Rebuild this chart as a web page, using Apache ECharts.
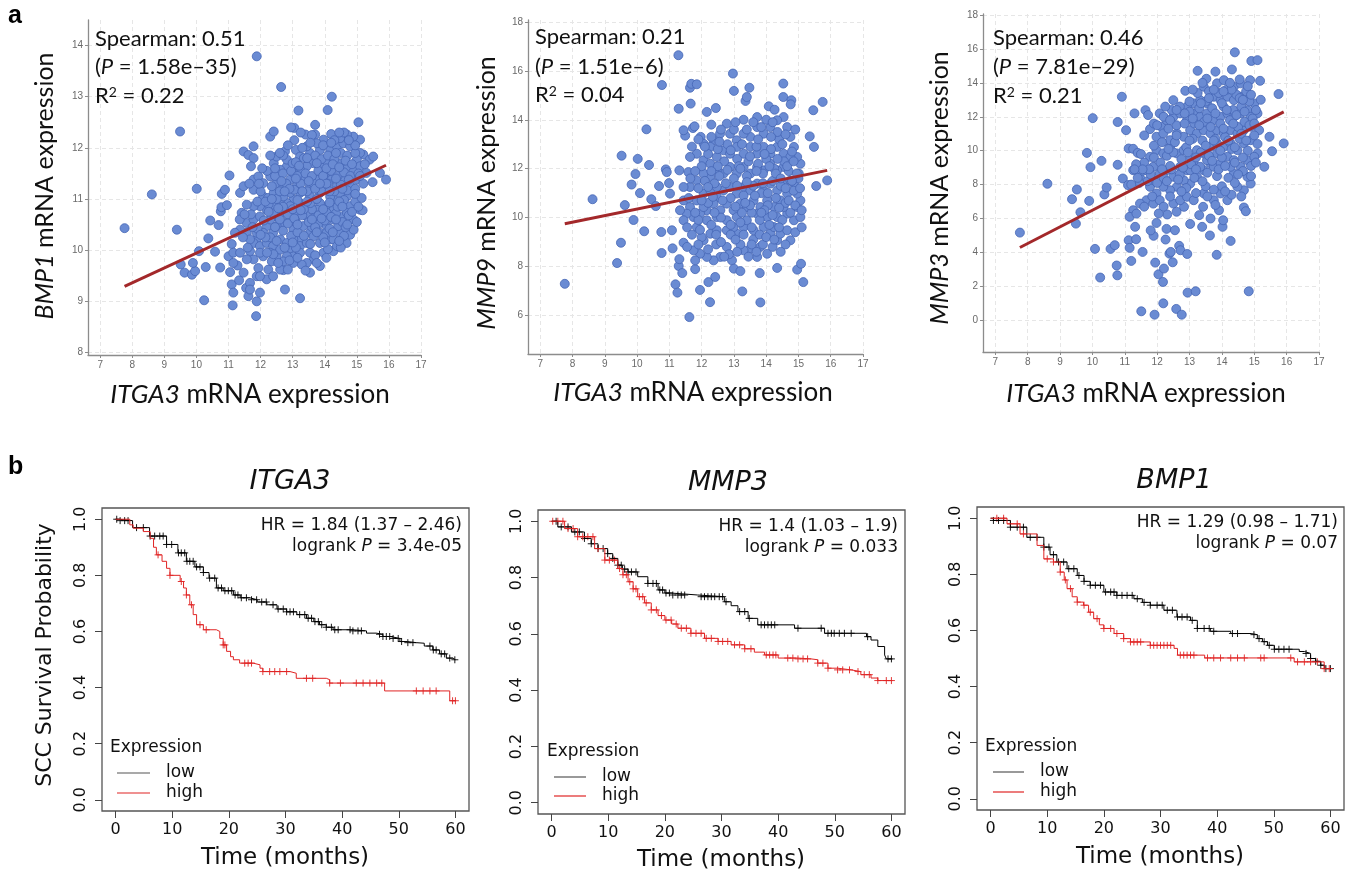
<!DOCTYPE html>
<html><head><meta charset="utf-8">
<script src="https://cdn.jsdelivr.net/npm/echarts@6/dist/echarts.min.js"></script>
<style>html,body{margin:0;padding:0;background:#fff}#c{width:1350px;height:874px}</style>
</head><body><div id="c"></div><script>
// ---------- tick values ----------
const xTicks = [7,8,9,10,11,12,13,14,15,16,17];
const bmp1Ticks = [8,9,10,11,12,13,14];
const mmp9Ticks = [6,8,10,12,14,16,18];
const mmp3Ticks = [0,2,4,6,8,10,12,14,16,18];
const timeTicks = [0,10,20,30,40,50,60];
const probTicks = [0,0.2,0.4,0.6,0.8,1.0];

// ---------- scatter data (ITGA3 x, gene y) ----------
const bmp1Points = [[7.76,10.43],[8.61,11.09],[9.49,12.32],[9.39,10.40],[9.51,9.72],[9.63,9.56],[9.86,9.52],[9.96,9.59],[9.89,9.75],[10.08,9.98],[10.01,11.20],[10.24,9.02],[10.29,9.67],[10.37,10.23],[10.43,10.58],[10.58,9.97],[10.69,10.49],[10.74,9.66],[10.76,10.76],[10.78,10.84],[10.79,11.10],[10.89,11.18],[11.03,11.46],[10.95,10.88],[11.00,9.88],[11.05,9.57],[11.10,9.33],[11.15,9.17],[11.13,8.92],[11.10,10.12],[11.15,9.95],[11.28,9.70],[11.33,9.41],[11.36,11.12],[11.41,10.73],[11.47,11.93],[11.62,11.86],[11.78,11.80],[11.78,12.03],[11.86,8.71],[11.88,9.00],[11.88,13.79],[11.55,9.26],[11.62,9.10],[11.70,11.64],[11.78,11.38],[11.93,11.44],[11.98,9.17],[11.88,9.49],[12.08,11.05],[12.23,11.02],[12.30,12.22],[12.41,12.32],[12.64,13.19],[12.76,11.93],[12.76,9.23],[12.71,9.61],[13.05,12.39],[13.10,11.96],[13.18,12.73],[13.23,9.06],[13.40,12.26],[13.70,12.45],[13.70,12.26],[13.85,9.69],[14.09,12.74],[14.22,13.00],[14.20,12.27],[15.05,12.50],[15.10,12.16],[15.49,11.33],[15.72,11.51],[15.91,11.38],[15.20,11.87],[15.10,11.90],[15.10,10.79],[15.18,10.78],[14.79,10.30],[14.68,10.14],[14.27,9.98],[14.17,10.21],[14.48,10.34],[13.85,10.34],[13.65,9.82],[13.54,9.56],[13.44,9.75],[13.28,9.72],[13.02,9.88],[12.92,10.04],[12.82,9.88],[12.71,9.78],[12.50,9.88],[12.35,9.78],[12.24,9.62],[12.19,9.43],[12.08,9.88],[11.93,9.65],[11.78,9.82],[11.67,9.98],[11.57,9.82],[11.47,9.56],[11.57,10.34],[11.36,10.40],[11.20,10.34],[11.57,10.53],[11.78,10.60],[11.98,10.66],[12.19,10.47],[12.39,10.34],[12.50,10.66],[12.71,10.73],[12.92,10.60],[13.02,10.40],[13.23,10.21],[13.33,10.47],[13.54,10.34],[13.70,10.66],[13.85,10.53],[14.06,10.47],[14.27,10.60],[14.42,10.47],[14.58,10.66],[14.79,10.86],[14.48,10.86],[14.27,10.99],[14.06,10.86],[13.85,10.92],[13.65,10.99],[13.44,10.86],[13.23,10.92],[13.02,10.99],[12.82,10.92],[12.61,10.99],[12.41,10.86],[12.19,10.79],[11.98,10.86],[11.78,10.86],[11.57,10.89],[11.47,11.25],[11.78,11.18],[12.08,11.31],[12.30,11.44],[12.50,11.31],[12.71,11.25],[12.92,11.38],[13.12,11.25],[13.33,11.38],[13.54,11.25],[13.75,11.38],[13.96,11.25],[14.17,11.38],[14.38,11.25],[14.58,11.38],[14.79,11.25],[15.00,11.38],[14.89,11.57],[14.69,11.64],[14.48,11.70],[14.27,11.64],[14.06,11.70],[13.85,11.64],[13.65,11.70],[13.44,11.64],[13.23,11.57],[13.02,11.51],[12.82,11.64],[12.61,11.57],[12.41,11.70],[12.50,11.83],[12.82,11.77],[13.23,11.83],[13.54,11.90],[13.85,11.96],[14.17,11.96],[14.38,12.03],[14.58,12.09],[14.79,12.03],[14.89,12.22],[14.69,12.26],[14.48,12.19],[13.96,12.16],[13.75,12.09],[13.44,12.03],[15.00,11.77],[15.10,11.64],[15.30,11.51],[15.40,11.77],[15.51,11.83],[14.89,11.12],[14.69,11.05],[14.48,11.12],[14.17,11.05],[13.85,11.12],[13.54,11.05],[13.23,11.12],[12.92,11.12],[12.71,11.05],[12.41,11.12],[14.27,10.79],[14.69,10.73],[14.89,10.60],[14.06,10.73],[13.75,10.79],[13.44,10.66],[13.12,10.73],[12.92,10.86],[12.71,10.53],[12.50,10.47],[12.30,10.60],[12.08,10.34],[11.88,10.21],[11.78,10.14],[11.98,10.08],[12.19,10.14],[12.39,10.08],[12.61,10.21],[12.82,10.14],[13.02,10.21],[13.23,10.08],[13.44,10.14],[13.65,10.27],[13.85,10.14],[14.06,10.34],[14.27,10.21],[14.38,10.08],[13.96,9.95],[13.54,9.95],[13.23,9.95],[12.61,10.01],[12.30,9.95],[11.98,9.95],[11.88,10.34],[11.67,10.21],[11.36,9.95],[11.15,9.75],[11.67,9.36],[11.98,9.49],[12.39,9.49],[12.61,9.62],[13.02,9.75],[11.67,9.23]];
const bmp1Core = [[12.4,9.92],[12.9,9.80],[13.1,10.05],[13.7,9.90],[14.1,10.02],[14.5,10.05],[11.6,10.05],[11.45,10.25],[11.9,10.42],[12.3,10.25],[12.7,10.38],[12.95,10.28],[13.15,10.35],[13.6,10.45],[13.95,10.25],[14.15,10.42],[14.6,10.28],[14.9,10.4],[12.5,10.18],[11.35,10.6],[11.7,10.7],[12.1,10.58],[12.4,10.72],[12.6,10.6],[12.85,10.7],[13.1,10.55],[13.3,10.68],[13.5,10.55],[13.8,10.68],[14.0,10.58],[14.35,10.72],[14.55,10.55],[14.75,10.68],[15.0,10.55],[13.6,10.8],[11.9,10.95],[12.25,10.9],[12.5,11.0],[12.7,10.85],[13.0,10.8],[13.15,10.98],[13.35,10.8],[13.55,10.92],[13.75,11.0],[13.95,10.8],[14.15,10.93],[14.4,10.85],[14.6,10.98],[14.95,10.95],[15.15,11.02],[11.65,11.3],[12.0,11.15],[12.35,11.25],[12.6,11.15],[12.8,11.3],[13.05,11.18],[13.25,11.3],[13.45,11.15],[13.65,11.3],[13.9,11.15],[14.1,11.3],[14.3,11.15],[14.5,11.28],[14.7,11.17],[14.95,11.2],[15.2,11.3],[12.2,11.55],[12.45,11.45],[12.7,11.5],[12.95,11.55],[13.15,11.45],[13.4,11.5],[13.6,11.45],[13.8,11.55],[14.0,11.48],[14.2,11.55],[14.4,11.45],[14.6,11.52],[14.8,11.45],[15.05,11.5],[13.0,11.7],[12.7,11.85],[13.1,11.72],[13.35,11.8],[13.7,11.85],[13.9,11.78],[14.1,11.85],[14.3,11.78],[14.5,11.9],[14.7,11.85],[14.95,11.9],[13.3,12.0],[14.6,12.3],[14.3,12.15],[13.6,12.25],[14.95,12.05]];
const bmp1Core2 = [[12.15,10.95],[12.55,10.82],[12.85,10.52],[13.05,10.62],[13.25,10.78],[13.45,10.95],[13.7,10.45],[13.9,10.62],[14.2,10.65],[14.45,10.95],[14.65,10.45],[14.85,10.75],[15.05,10.85],[12.45,11.6],[12.65,11.35],[12.9,11.2],[13.1,11.4],[13.3,11.15],[13.5,11.35],[13.7,11.2],[13.95,11.45],[14.15,11.15],[14.35,11.4],[14.55,11.2],[14.75,11.38],[15.1,11.45],[13.2,11.65],[13.45,11.8],[13.75,11.7],[14.05,11.6],[14.25,11.68],[14.45,11.62],[14.65,11.75],[14.85,11.68],[15.25,11.68],[13.95,12.05],[14.2,12.1],[14.45,12.3],[14.75,12.15],[13.05,12.15],[12.85,12.05],[12.3,11.85],[12.05,11.6],[12.15,10.25],[12.45,10.45],[12.75,10.05],[13.0,10.15],[13.35,10.28],[13.55,10.12],[13.75,10.35],[14.0,10.15],[14.25,10.35],[14.45,10.18],[14.7,10.5],[12.55,9.75],[12.85,9.62],[13.15,9.85],[13.4,9.6],[13.75,9.75],[14.05,9.85],[11.75,10.45],[12.0,10.3],[12.25,10.75],[11.95,11.3],[11.5,10.7],[12.2,9.95],[12.6,11.9],[13.55,12.1],[13.25,12.3],[12.95,12.4],[14.35,11.9],[14.05,11.3],[13.6,10.6],[13.15,10.5],[14.35,10.6],[14.55,10.85],[14.95,11.1],[12.35,11.0],[12.75,11.15],[13.85,11.3]];

const mmp9Points = [[7.76,7.29],[8.62,10.75],[9.38,8.14],[9.50,8.97],[9.52,12.53],[9.62,10.51],[9.83,11.35],[9.89,9.90],[9.95,11.78],[10.02,12.40],[10.09,11.00],[10.22,9.44],[10.29,13.61],[10.37,12.15],[10.44,10.75],[10.58,10.47],[10.68,11.29],[10.75,9.41],[10.76,8.55],[10.77,15.42],[10.89,11.97],[10.92,11.86],[10.99,11.41],[11.02,10.98],[11.08,9.48],[11.10,8.74],[11.19,7.27],[11.25,6.93],[11.28,16.64],[11.29,14.45],[11.31,11.93],[11.29,8.02],[11.31,8.30],[11.40,7.73],[11.44,8.97],[11.49,13.35],[11.59,11.86],[11.62,5.93],[11.64,15.31],[11.66,14.66],[11.68,15.47],[11.85,15.45],[11.73,13.66],[11.78,13.73],[11.80,7.89],[11.95,7.04],[11.97,13.30],[12.16,14.32],[12.21,7.36],[12.26,6.54],[12.44,14.48],[12.42,7.57],[12.97,15.89],[13.00,15.18],[12.94,8.25],[13.00,7.91],[13.20,7.81],[13.26,6.98],[13.36,14.77],[13.40,14.93],[13.48,15.31],[13.80,7.73],[13.82,6.53],[13.72,14.11],[14.08,14.55],[14.26,14.41],[14.53,15.48],[14.53,14.93],[14.78,14.80],[14.76,14.63],[15.46,14.39],[15.75,14.73],[15.89,11.52],[15.55,11.29],[15.48,12.89],[15.35,13.32],[14.96,7.87],[15.08,8.11],[15.15,7.36],[14.75,9.07],[14.34,7.94],[13.72,8.39],[13.51,8.73],[13.30,8.66],[13.09,9.34],[12.78,8.80],[12.58,8.39],[12.37,8.25],[12.16,8.39],[11.95,8.52],[11.80,8.25],[11.75,8.66],[12.06,9.07],[12.27,9.34],[12.47,9.48],[12.78,9.48],[12.99,9.61],[13.30,9.61],[13.61,9.48],[13.92,9.61],[14.13,9.34],[14.34,9.07],[14.44,9.34],[14.65,9.48],[13.82,8.80],[14.03,8.52],[14.24,9.61],[14.86,9.89],[15.06,10.02],[14.96,10.43],[15.06,10.70],[14.96,10.98],[14.86,11.39],[15.01,11.80],[15.06,12.20],[14.96,12.48],[14.86,12.89],[14.75,13.30],[14.65,13.70],[14.54,14.11],[14.34,13.98],[14.13,13.70],[13.92,13.43],[13.72,13.70],[13.51,13.30],[13.30,13.43],[13.09,13.16],[12.88,13.43],[12.78,13.84],[12.57,13.43],[12.37,13.16],[12.27,12.89],[12.06,13.02],[11.85,12.61],[12.06,12.34],[12.27,12.20],[12.47,12.48],[12.68,12.75],[12.88,12.61],[13.09,12.89],[13.30,12.61],[13.51,12.89],[13.72,12.61],[13.92,12.89],[14.13,12.61],[14.34,12.89],[14.54,12.61],[14.75,12.48],[14.54,12.07],[14.34,11.93],[14.13,12.20],[13.92,11.93],[13.72,12.07],[13.51,11.80],[13.30,12.07],[13.09,11.80],[12.88,12.07],[12.68,11.80],[12.47,11.93],[12.27,11.66],[12.06,11.80],[11.85,11.52],[11.64,11.25],[11.44,11.25],[11.44,10.70],[11.64,10.43],[11.85,10.70],[12.06,10.98],[12.27,11.11],[12.47,10.84],[12.68,11.11],[12.88,11.25],[13.09,10.98],[13.30,11.25],[13.51,11.11],[13.72,11.39],[13.92,11.11],[14.13,11.39],[14.34,11.11],[14.54,11.39],[14.75,11.52],[14.65,10.98],[14.44,10.70],[14.24,10.43],[14.03,10.70],[13.82,10.43],[13.61,10.70],[13.40,10.43],[13.20,10.57],[12.99,10.30],[12.78,10.57],[12.58,10.30],[12.37,10.57],[12.16,10.30],[11.95,10.16],[11.75,10.02],[11.54,10.16],[11.33,10.30],[11.44,9.89],[11.85,9.61],[12.16,9.89],[12.47,10.02],[12.78,9.89],[13.09,10.02],[13.40,9.89],[13.72,10.16],[14.03,10.02],[14.34,10.02],[14.65,10.16],[14.54,10.43],[11.44,13.57],[11.64,12.48],[12.47,11.25],[12.06,10.43]];
const mmp9Core = [[11.6,10.8],[11.9,11.2],[12.2,10.6],[12.4,11.4],[12.6,10.0],[12.7,12.3],[12.9,10.8],[13.0,11.6],[13.1,12.4],[13.2,9.8],[13.3,10.9],[13.4,11.7],[13.45,12.3],[13.55,10.2],[13.6,11.3],[13.7,12.9],[13.8,9.9],[13.85,11.0],[13.9,11.8],[14.0,12.4],[14.05,10.5],[14.1,9.7],[14.2,11.5],[14.25,12.0],[14.3,10.8],[14.4,13.2],[14.45,11.3],[14.5,9.9],[14.55,12.3],[14.6,10.6],[14.7,11.9],[14.75,10.2],[14.8,12.7],[14.85,11.1],[14.9,13.6],[15.0,11.6],[12.8,13.0],[12.5,12.8],[12.2,12.6],[12.0,12.1],[11.8,11.9],[11.7,12.9],[12.9,9.3],[13.2,8.9],[13.6,9.1],[13.9,8.9],[14.2,8.8],[12.3,9.7],[12.0,9.2],[11.9,9.9],[13.0,13.6],[13.3,14.0],[13.6,13.9],[14.0,14.0],[14.35,13.5],[12.6,13.6],[12.3,13.8],[11.9,13.2],[13.15,12.1],[13.75,12.2],[14.15,12.8],[13.5,10.5],[13.25,10.2],[13.95,10.3],[12.75,11.4],[12.35,10.85],[11.55,9.6],[11.7,9.3],[12.45,8.9],[12.85,8.5],[13.45,8.4],[14.6,8.9],[14.9,9.4],[15.1,9.6],[12.1,11.5],[12.55,11.7]];
const mmp9Core2 = [[12.2,11.25],[12.4,10.2],[12.5,12.1],[12.65,10.7],[12.8,11.95],[12.9,12.75],[13.05,10.45],[13.1,11.3],[13.2,12.0],[13.25,13.0],[13.35,10.6],[13.4,11.45],[13.5,12.5],[13.55,9.6],[13.65,10.9],[13.7,11.9],[13.75,13.2],[13.85,10.2],[13.9,11.4],[13.95,12.6],[14.05,11.0],[14.1,12.1],[14.15,13.3],[14.2,10.1],[14.3,11.8],[14.35,12.4],[14.4,10.4],[14.45,11.6],[14.5,13.0],[14.6,11.2],[14.65,12.1],[14.7,10.7],[14.8,11.5],[14.85,12.3],[14.9,10.5],[14.95,11.8],[15.05,11.2],[15.1,10.3],[12.1,12.9],[12.3,11.9],[12.45,9.3],[12.6,9.0],[12.9,9.7],[13.05,9.1],[13.3,9.3],[13.55,8.9],[13.8,9.3],[14.0,9.2],[14.25,9.1],[14.4,9.6],[12.0,10.7],[11.8,10.2],[11.65,11.6],[12.3,13.3],[12.55,13.1],[13.05,13.9],[13.4,13.6],[13.85,13.7],[14.2,13.9],[14.6,13.4],[11.95,9.5],[12.2,8.7],[12.7,8.4],[13.1,8.6],[13.7,8.6],[14.45,8.6],[11.55,8.8],[11.9,8.9]];

const mmp3Points = [[7.76,5.17],[8.61,8.05],[9.37,7.14],[9.49,5.70],[9.52,7.71],[9.63,6.37],[9.83,9.87],[9.90,7.04],[9.94,9.03],[10.01,11.92],[10.08,4.21],[10.24,2.52],[10.28,9.40],[10.37,7.42],[10.44,7.83],[10.56,4.21],[10.69,4.43],[10.75,3.23],[10.77,2.65],[10.78,9.17],[10.78,11.69],[10.91,13.18],[10.94,8.36],[11.04,11.21],[11.10,7.97],[11.12,10.13],[11.12,4.72],[11.15,4.27],[11.20,3.50],[11.26,10.11],[11.30,12.20],[11.32,5.51],[11.35,4.78],[11.40,9.87],[11.51,0.53],[11.55,4.03],[11.64,12.39],[11.72,12.10],[11.78,11.27],[11.89,4.98],[11.92,0.33],[11.94,3.40],[11.98,5.74],[12.04,2.71],[12.08,12.20],[12.13,11.41],[12.18,2.26],[12.19,1.00],[12.21,3.05],[12.26,4.76],[12.29,5.39],[12.31,6.24],[12.38,3.93],[12.42,4.03],[12.48,3.42],[12.55,5.31],[12.59,0.67],[12.68,4.39],[12.72,4.13],[12.76,0.33],[12.83,6.69],[12.87,13.53],[12.93,3.91],[12.94,1.63],[13.02,5.68],[13.19,1.71],[13.25,14.71],[13.39,5.51],[13.42,6.69],[13.44,7.48],[13.52,14.24],[13.63,5.00],[13.65,6.00],[13.80,14.66],[13.84,3.86],[13.91,6.49],[14.02,5.51],[14.04,5.90],[14.27,4.68],[14.31,14.79],[14.40,15.80],[14.68,6.65],[14.74,6.43],[14.83,1.71],[14.91,15.29],[15.10,15.34],[15.18,14.12],[14.87,14.16],[15.75,13.34],[15.91,10.43],[15.55,9.97],[15.47,10.82],[15.31,9.05],[15.10,9.84],[15.15,11.21],[15.10,12.20],[15.00,12.79],[14.89,8.06],[14.79,8.46],[14.68,7.67],[14.48,7.87],[14.37,8.66],[14.27,9.05],[14.17,9.64],[14.06,10.23],[13.85,9.84],[13.65,9.25],[13.44,8.85],[13.23,8.46],[13.02,8.06],[12.82,8.26],[12.61,7.87],[12.40,7.67],[12.19,7.87],[11.98,7.48],[11.78,7.87],[11.67,7.08],[11.47,6.88],[11.26,6.49],[11.15,6.10],[11.36,6.29],[11.60,6.70],[11.88,6.88],[12.08,7.08],[12.50,6.88],[12.71,7.08],[12.92,7.28],[13.13,7.08],[13.75,7.08],[13.96,7.48],[14.17,7.08],[11.26,8.85],[11.47,8.66],[11.67,8.85],[11.88,9.05],[12.08,8.66],[12.29,8.85],[12.50,8.46],[12.71,9.05],[12.92,8.85],[13.13,9.25],[13.33,9.05],[13.54,9.44],[13.75,9.05],[13.96,9.25],[14.37,9.44],[14.58,9.05],[14.79,9.44],[15.00,9.64],[11.78,9.64],[11.98,10.03],[12.19,9.84],[12.40,10.23],[12.61,9.84],[12.82,10.03],[13.02,9.64],[13.23,10.03],[13.44,9.84],[13.65,10.23],[13.85,10.43],[14.27,10.43],[14.48,10.03],[14.68,10.43],[14.89,10.62],[11.98,10.82],[12.19,11.02],[12.40,10.62],[12.61,11.02],[12.82,10.82],[13.02,11.21],[13.23,11.02],[13.44,11.21],[13.65,11.02],[13.85,11.21],[14.06,11.02],[14.27,11.21],[14.48,11.02],[14.68,11.21],[14.89,11.41],[12.29,11.80],[12.50,12.00],[12.71,12.20],[12.92,11.80],[13.13,12.20],[13.33,12.00],[13.54,12.20],[13.75,11.80],[13.96,12.00],[14.17,12.20],[14.37,12.00],[14.58,12.20],[14.79,12.39],[14.89,12.00],[13.13,12.79],[13.33,12.98],[13.54,12.79],[13.75,13.18],[13.96,12.98],[14.17,13.18],[14.37,12.98],[14.58,13.18],[14.79,12.98],[13.44,13.77],[13.85,13.97],[14.06,14.16],[14.37,13.77],[14.58,13.97],[12.92,12.59],[12.50,12.98],[11.88,8.26],[13.02,8.85]];
const mmp3Core = [[11.5,8.3],[11.6,9.3],[11.7,8.2],[11.8,8.6],[11.9,9.6],[12.0,8.1],[12.1,9.3],[12.2,8.4],[12.3,9.7],[12.35,11.3],[12.45,8.9],[12.55,10.5],[12.6,11.5],[12.7,8.6],[12.75,9.5],[12.85,11.6],[12.9,10.2],[13.0,12.3],[13.05,9.2],[13.1,10.7],[13.15,11.6],[13.2,8.9],[13.3,12.5],[13.35,9.9],[13.4,10.6],[13.45,11.7],[13.5,12.9],[13.55,8.7],[13.6,9.7],[13.65,11.4],[13.7,12.5],[13.8,10.7],[13.85,8.5],[13.9,13.4],[13.95,11.6],[14.0,9.6],[14.05,12.6],[14.1,10.8],[14.15,13.6],[14.2,8.4],[14.25,11.8],[14.3,10.1],[14.35,12.4],[14.4,9.3],[14.45,13.3],[14.5,11.4],[14.55,10.7],[14.6,12.6],[14.65,8.8],[14.7,11.7],[14.75,13.5],[14.8,10.0],[14.85,12.9],[14.9,9.1],[14.95,11.9],[15.0,10.9],[15.05,12.4],[15.1,10.4],[15.2,13.0],[13.25,13.4],[13.6,13.5],[13.0,12.9],[12.7,12.6],[12.45,12.4],[12.2,12.0],[11.9,11.6],[11.6,10.9],[11.35,9.2],[11.45,8.1],[11.2,8.0],[12.05,6.3],[12.6,6.4],[13.3,6.2],[13.8,6.8],[14.3,7.4],[14.6,7.3],[11.8,5.3],[12.9,7.8],[13.5,7.9],[14.0,7.9]];
const mmp3Core2 = [[12.3,8.2],[12.4,9.1],[12.5,9.9],[12.6,10.9],[12.65,8.3],[12.8,9.0],[12.95,9.9],[13.0,10.6],[13.1,11.9],[13.15,8.4],[13.2,9.6],[13.3,11.5],[13.35,12.8],[13.4,8.2],[13.5,10.3],[13.55,11.9],[13.6,13.1],[13.7,9.4],[13.75,10.6],[13.8,12.2],[13.9,8.9],[13.95,10.0],[14.0,12.8],[14.05,11.3],[14.1,9.1],[14.15,12.4],[14.2,10.6],[14.3,13.6],[14.35,11.6],[14.4,10.2],[14.45,12.1],[14.5,8.6],[14.55,13.1],[14.6,11.0],[14.65,9.6],[14.7,12.3],[14.75,10.6],[14.8,13.8],[14.85,11.5],[14.9,8.5],[15.0,11.6],[15.05,9.3],[11.9,10.3],[12.0,11.5],[12.15,10.5],[12.25,12.6],[12.4,11.8],[11.75,8.9],[11.55,8.9],[11.4,8.4],[11.3,8.9],[11.5,9.8],[11.85,7.3],[12.2,6.7],[12.4,7.3],[12.75,7.6],[13.2,7.5],[13.55,7.3],[13.75,7.7],[14.1,7.6],[14.4,8.1],[13.1,13.6],[13.4,14.0],[13.75,13.6],[14.05,13.5],[14.25,14.0],[14.55,14.2],[14.65,13.0],[14.9,13.3],[12.85,12.2],[12.6,12.4],[12.35,10.1],[12.15,8.9]];

// regression line end points
const fitBMP1 = [[7.76,9.29],[15.91,11.66]];
const fitMMP9 = [[7.76,9.75],[15.89,11.93]];
const fitMMP3 = [[7.76,4.29],[15.91,12.29]];

// ---------- Kaplan-Meier curves [months, survival] ----------
const itga3Low = [[0,1],[0.5,0.995],[3,0.97],[6,0.94],[9,0.91],[11,0.88],[12.5,0.85],[14,0.83],[15.5,0.81],[16.5,0.79],[17.8,0.755],[19,0.745],[20.8,0.73],[22,0.72],[23.7,0.713],[25,0.705],[26.7,0.695],[28.5,0.68],[30.2,0.67],[32,0.66],[33.7,0.647],[35,0.635],[36,0.624],[37.2,0.615],[38.4,0.606],[41.9,0.602],[44.3,0.594],[46,0.59],[47.2,0.582],[48.5,0.575],[50.2,0.564],[51.5,0.56],[53.1,0.558],[54.5,0.548],[56,0.534],[57.2,0.52],[58.4,0.505],[59.5,0.499],[60,0.499]];
const itga3High = [[0,1],[1.6,1],[2.5,0.98],[3.1,0.968],[4.9,0.956],[6.1,0.932],[6.7,0.9],[7.2,0.873],[8.2,0.85],[9,0.825],[9.6,0.8],[11.4,0.778],[12,0.755],[12.5,0.73],[13.1,0.695],[13.7,0.66],[14.3,0.624],[15.5,0.606],[17.8,0.6],[18.4,0.575],[19,0.552],[19.6,0.529],[20.3,0.51],[20.8,0.499],[21.9,0.487],[24.3,0.481],[25.5,0.469],[26,0.457],[30.8,0.451],[31.9,0.433],[37.2,0.428],[37.8,0.416],[47.5,0.388],[59,0.353],[60,0.353]];
const mmp3Low = [[0,1],[1.1,0.98],[3.5,0.962],[5.8,0.939],[7,0.92],[8.2,0.903],[9.9,0.885],[10.8,0.868],[11.7,0.844],[12.5,0.83],[13.5,0.82],[15.2,0.803],[17,0.779],[18.8,0.756],[20,0.745],[21.1,0.738],[25.8,0.732],[30.5,0.714],[31.7,0.70],[32.9,0.679],[34.7,0.655],[36.4,0.632],[42.9,0.62],[48.2,0.602],[55.6,0.59],[56.4,0.578],[57.6,0.555],[58.8,0.525],[59.1,0.511],[60.2,0.511]];
const mmp3High = [[0,1],[2.3,0.974],[4.6,0.945],[7.6,0.903],[9.4,0.862],[11.7,0.832],[12.6,0.81],[13.5,0.785],[14.4,0.76],[15.2,0.732],[16.4,0.71],[17.6,0.685],[18.8,0.665],[20,0.649],[21.2,0.635],[22.3,0.62],[24.6,0.602],[27,0.584],[29.4,0.573],[31.7,0.561],[34.1,0.547],[35.8,0.535],[37.6,0.525],[40,0.514],[43.5,0.511],[45.8,0.508],[47,0.496],[48.8,0.478],[50.5,0.472],[52.9,0.466],[54.6,0.455],[56.4,0.443],[57.6,0.434],[60.2,0.434]];
const bmp1Low = [[0,1],[0.5,0.992],[3.5,0.968],[6.4,0.932],[9.4,0.897],[10.5,0.87],[11.7,0.844],[13.5,0.82],[15.3,0.796],[16.5,0.775],[17.6,0.761],[20,0.737],[22.3,0.725],[25.3,0.713],[26.8,0.7],[28.2,0.69],[30.6,0.672],[32.9,0.648],[35.3,0.636],[36.5,0.607],[38.8,0.597],[42.4,0.589],[46,0.585],[47.1,0.571],[48,0.56],[48.9,0.547],[50.1,0.533],[54.5,0.525],[55.4,0.518],[56.5,0.5],[57.4,0.49],[58.3,0.476],[59,0.464],[60.1,0.464]];
const bmp1High = [[0,1],[2,1],[2.9,0.98],[5.2,0.944],[8.2,0.903],[9.4,0.855],[11.1,0.844],[12.3,0.808],[13,0.78],[13.5,0.749],[14.4,0.72],[15.3,0.701],[16.4,0.69],[17.3,0.665],[18.2,0.642],[19.2,0.62],[20,0.607],[21.8,0.589],[23.5,0.571],[24.7,0.559],[28.2,0.547],[32.4,0.536],[33,0.512],[37.8,0.502],[53.6,0.488],[58.9,0.464],[60.3,0.464]];

// censoring times (months)
const itga3LowCens = [0.2,0.8,1.6,2.2,3.7,4.9,6.1,6.9,7.8,8.4,9.0,9.9,11.1,11.6,12.2,12.6,13.1,13.7,14.3,14.9,15.5,16.6,17.5,18.1,18.7,19.3,19.9,20.5,21.1,21.6,22.2,23.1,24.0,24.9,25.8,26.6,27.8,28.7,29.6,30.2,30.8,31.4,32.5,33.4,34.0,34.6,35.2,35.8,36.4,37.2,38.1,38.7,39.3,41.4,41.9,42.8,43.4,46.6,47.2,47.8,48.4,49.0,49.9,50.5,51.6,52.5,55.5,56.1,56.6,57.5,58.1,59.0,59.9];
const itga3HighCens = [7.5,9.6,11.6,12.5,13.4,14.9,16.0,19.0,19.3,22.8,23.4,24.0,26.0,27.2,28.1,29.0,30.2,33.7,34.8,37.8,39.7,42.5,43.7,44.9,46.1,47.0,53.1,54.3,55.5,56.6,59.5,60.0];
const mmp3LowCens = [0.8,1.7,2.9,4.1,4.9,5.8,7.0,8.2,9.1,9.9,10.8,11.7,12.3,12.9,13.5,14.1,14.9,17.0,17.9,18.5,19.1,19.6,20.2,20.8,21.4,22.3,22.9,23.5,26.4,27.0,27.6,28.2,28.8,29.6,30.2,30.8,33.2,34.1,34.9,37.0,37.6,38.2,38.8,39.4,43.5,47.6,48.8,49.4,49.9,50.8,51.7,52.9,55.8,59.4,60.0];
const mmp3HighCens = [0.2,1.1,2.0,2.9,3.8,4.6,5.5,6.4,7.3,8.2,9.4,10.2,11.1,12.0,12.6,13.2,13.8,14.4,14.9,15.5,16.1,16.7,17.6,18.5,19.4,20.2,21.1,22.0,22.9,23.8,24.6,25.5,26.4,27.3,28.2,29.4,30.2,31.1,32.3,33.2,34.1,35.2,37.9,38.5,39.1,39.6,41.7,42.6,43.5,44.4,45.2,47.0,47.9,48.8,50.5,51.4,52.6,54.1,55.2,56.1,57.6,59.1,60.0];
const bmp1LowCens = [0.5,1.4,2.3,3.5,4.7,5.8,7.0,8.2,9.4,10.3,11.1,12.0,12.9,13.8,14.7,15.6,16.5,17.6,18.5,19.4,20.3,21.2,21.8,22.3,23.2,24.1,25.0,25.9,27.1,28.2,29.4,30.3,31.2,32.1,33.0,33.8,34.7,35.6,36.5,37.7,38.6,39.4,42.7,43.6,46.5,47.4,48.3,49.2,50.1,50.9,51.8,52.7,55.7,56.5,57.4,58.3,59.2,60.0];
const bmp1HighCens = [1.1,2.3,3.5,4.7,5.8,10.0,11.1,12.3,13.2,14.1,15.3,16.5,17.6,18.8,20.0,21.2,22.3,23.5,24.7,25.3,25.9,26.5,28.2,28.8,29.4,30.0,30.6,31.2,31.8,33.5,34.1,34.7,35.3,35.9,38.3,39.4,40.6,42.4,43.6,44.8,47.7,48.3,53.0,54.2,55.4,56.5,57.7,58.9,59.8];

// ---------- helpers ----------
function stepAt(curve, t) {
  let v = curve[0][1];
  for (const p of curve) { if (p[0] <= t) v = p[1]; else break; }
  return v;
}
const LATO = 'Lato';
const DV = 'DejaVu Sans';
function rich(size, family, fill) {
  return {
    n: {fontSize: size, fontFamily: family, fill: fill},
    i: {fontSize: size, fontFamily: family, fontStyle: 'italic', fill: fill},
    s: {fontSize: Math.round(size * 0.62), fontFamily: family, fill: fill, verticalAlign: 'top'}
  };
}
function txt(x, y, text, size, family, o) {
  o = o || {};
  return {
    type: 'text', x: x, y: y, rotation: o.rot || 0, silent: true, z: 100,
    style: {
      text: text, fontSize: size, fontFamily: family, fill: o.fill || '#111',
      align: o.align || 'left', verticalAlign: 'middle',
      fontStyle: o.italic ? 'italic' : 'normal', fontWeight: o.bold ? 'bold' : 'normal',
      rich: rich(size, family, o.fill || '#111')
    }
  };
}
function seg(x1, y1, x2, y2, color) {
  return {type: 'line', silent: true, z: 100, shape: {x1: x1, y1: y1, x2: x2, y2: y2}, style: {stroke: color, lineWidth: 1.2}};
}

const AX = '#8c8c8c';
function sX(gi) {
  return {gridIndex: gi, type: 'value', min: 6.62, max: 17,
    axisLine: {show: true, onZero: false, lineStyle: {color: AX, width: 1.3}},
    axisTick: {show: true, length: 3, customValues: xTicks, lineStyle: {color: AX}},
    axisLabel: {customValues: xTicks, fontSize: 10, color: '#6a6a6a', margin: 5, fontFamily: 'Liberation Sans'},
    splitLine: {show: true, lineStyle: {type: [4, 3], color: '#e6e6e6', width: 1}}};
}
function sY(gi, min, max, ticks) {
  return {gridIndex: gi, type: 'value', min: min, max: max,
    axisLine: {show: true, onZero: false, lineStyle: {color: AX, width: 1.3}},
    axisTick: {show: true, length: 3, customValues: ticks, lineStyle: {color: AX}},
    axisLabel: {customValues: ticks, fontSize: 10, color: '#6a6a6a', margin: 5, fontFamily: 'Liberation Sans'},
    splitLine: {show: true, lineStyle: {type: [4, 3], color: '#e6e6e6', width: 1}}};
}
function kX(gi) {
  return {gridIndex: gi, type: 'value', min: -2.4, max: 62.4,
    axisLine: {show: false, onZero: false},
    axisTick: {show: true, length: 7, customValues: timeTicks, lineStyle: {color: '#444', width: 1}},
    axisLabel: {customValues: timeTicks, fontSize: 16, fontFamily: DV, color: '#111', margin: 11},
    splitLine: {show: false}};
}
function kY(gi) {
  return {gridIndex: gi, type: 'value', min: -0.04, max: 1.04,
    axisLine: {show: false, onZero: false},
    axisTick: {show: true, length: 7, customValues: probTicks, lineStyle: {color: '#444', width: 1}},
    axisLabel: {customValues: probTicks, fontSize: 16, fontFamily: DV, color: '#111', margin: 13, rotate: 90,
      formatter: function (v) { return v.toFixed(1); }},
    splitLine: {show: false}};
}

function scat(i, data) {
  return {type: 'scatter', xAxisIndex: i, yAxisIndex: i, data: data, symbolSize: 9, silent: true,
    itemStyle: {color: '#6a8bd3', borderColor: '#4566b5', borderWidth: 0.8, opacity: 1}};
}
function fit(i, data) {
  return {type: 'line', xAxisIndex: i, yAxisIndex: i, data: data, symbol: 'none', silent: true, z: 5,
    lineStyle: {color: '#a3282a', width: 3}};
}
const RED = '#e02424';
function km(i, curve, color) {
  return {type: 'line', xAxisIndex: i, yAxisIndex: i, data: curve, step: 'end', symbol: 'none', silent: true,
    lineStyle: {color: color, width: 1}};
}
const PLUS = 'path://M0,5L10,5M5,0L5,10';
function cens(i, curve, times, color) {
  return {type: 'scatter', xAxisIndex: i, yAxisIndex: i, silent: true, symbol: PLUS, symbolSize: 7,
    data: times.map(function (t) { return [t, stepAt(curve, t)]; }),
    itemStyle: {color: 'rgba(0,0,0,0)', borderColor: color, borderWidth: 1, opacity: 0.9}};
}

const grids = [
  {left: 88, top: 20, width: 333, height: 335},
  {left: 528, top: 20, width: 335, height: 334},
  {left: 983, top: 14, width: 336, height: 338},
  {left: 102, top: 508, width: 367, height: 303, show: true, borderColor: '#555', borderWidth: 1.3},
  {left: 538, top: 510, width: 367, height: 304, show: true, borderColor: '#555', borderWidth: 1.3},
  {left: 977, top: 507, width: 367, height: 303, show: true, borderColor: '#555', borderWidth: 1.3}
].map(function (g) { g.outerBoundsMode = 'none'; g.containLabel = false; return g; });

const graphics = [
  txt(8, 16, 'a', 25, 'Liberation Sans', {bold: true, fill: '#000'}),
  txt(8, 467, 'b', 25, 'Liberation Sans', {bold: true, fill: '#000'}),
  // scatter annotations
  txt(95, 39, '{n|Spearman: 0.51}', 22, LATO),
  txt(95, 67, '{n|(}{i|P}{n| = 1.58e–35)}', 22, LATO),
  txt(95, 96, '{n|R}{s|2}{n| = 0.22}', 22, LATO),
  txt(535, 37, '{n|Spearman: 0.21}', 22, LATO),
  txt(535, 67, '{n|(}{i|P}{n| = 1.51e–6)}', 22, LATO),
  txt(535, 95, '{n|R}{s|2}{n| = 0.04}', 22, LATO),
  txt(993, 38, '{n|Spearman: 0.46}', 22, LATO),
  txt(993, 67, '{n|(}{i|P}{n| = 7.81e–29)}', 22, LATO),
  txt(993, 96, '{n|R}{s|2}{n| = 0.21}', 22, LATO),
  // scatter axis titles
  txt(250, 395, '{i|ITGA3}{n| mRNA expression}', 26, LATO, {align: 'center'}),
  txt(693, 393, '{i|ITGA3}{n| mRNA expression}', 26, LATO, {align: 'center'}),
  txt(1146, 394, '{i|ITGA3}{n| mRNA expression}', 26, LATO, {align: 'center'}),
  txt(45, 186, '{i|BMP1}{n| mRNA expression}', 25, LATO, {align: 'center', rot: Math.PI / 2}),
  txt(487, 193, '{i|MMP9}{n| mRNA expression}', 25, LATO, {align: 'center', rot: Math.PI / 2}),
  txt(940, 188, '{i|MMP3}{n| mRNA expression}', 25, LATO, {align: 'center', rot: Math.PI / 2}),
  // KM titles
  txt(290, 482, '{i|ITGA3}', 27, DV, {align: 'center'}),
  txt(728, 483, '{i|MMP3}', 27, DV, {align: 'center'}),
  txt(1174, 481, '{i|BMP1}', 27, DV, {align: 'center'}),
  // HR texts
  txt(462, 526, '{n|HR = 1.84 (1.37 – 2.46)}', 17, DV, {align: 'right'}),
  txt(462, 547, '{n|logrank }{i|P}{n| = 3.4e-05}', 17, DV, {align: 'right'}),
  txt(898, 527, '{n|HR = 1.4 (1.03 – 1.9)}', 17, DV, {align: 'right'}),
  txt(898, 548, '{n|logrank }{i|P}{n| = 0.033}', 17, DV, {align: 'right'}),
  txt(1338, 523, '{n|HR = 1.29 (0.98 – 1.71)}', 17, DV, {align: 'right'}),
  txt(1338, 544, '{n|logrank }{i|P}{n| = 0.07}', 17, DV, {align: 'right'}),
  // KM axis titles
  txt(285, 858, '{n|Time (months)}', 23, DV, {align: 'center'}),
  txt(721, 860, '{n|Time (months)}', 23, DV, {align: 'center'}),
  txt(1160, 857, '{n|Time (months)}', 23, DV, {align: 'center'}),
  txt(45, 655, '{n|SCC Survival Probability}', 22, DV, {align: 'center', rot: Math.PI / 2}),
  // legends
  txt(110, 748, '{n|Expression}', 17, DV), seg(117, 773, 150, 773, '#555'), seg(117, 793, 150, 793, RED),
  txt(166, 773, '{n|low}', 17, DV), txt(166, 793, '{n|high}', 17, DV),
  txt(547, 752, '{n|Expression}', 17, DV), seg(554, 777, 586, 777, '#555'), seg(554, 796, 586, 796, RED),
  txt(602, 777, '{n|low}', 17, DV), txt(602, 796, '{n|high}', 17, DV),
  txt(985, 747, '{n|Expression}', 17, DV), seg(993, 772, 1024, 772, '#555'), seg(993, 792, 1024, 792, RED),
  txt(1040, 772, '{n|low}', 17, DV), txt(1040, 792, '{n|high}', 17, DV)
];

const chart = echarts.init(document.getElementById('c'), null, {renderer: 'canvas'});
chart.setOption({
  animation: false,
  backgroundColor: '#fff',
  grid: grids,
  xAxis: [sX(0), sX(1), sX(2), kX(3), kX(4), kX(5)],
  yAxis: [sY(0, 7.95, 14.5, bmp1Ticks), sY(1, 4.42, 18.08, mmp9Ticks), sY(2, -1.87, 18.06, mmp3Ticks), kY(3), kY(4), kY(5)],
  series: [
    scat(0, bmp1Points.concat(bmp1Core, bmp1Core2)), fit(0, fitBMP1),
    scat(1, mmp9Points.concat(mmp9Core, mmp9Core2)), fit(1, fitMMP9),
    scat(2, mmp3Points.concat(mmp3Core, mmp3Core2)), fit(2, fitMMP3),
    km(3, itga3Low, '#000'), km(3, itga3High, RED),
    cens(3, itga3Low, itga3LowCens, '#000'), cens(3, itga3High, itga3HighCens, RED),
    km(4, mmp3Low, '#000'), km(4, mmp3High, RED),
    cens(4, mmp3Low, mmp3LowCens, '#000'), cens(4, mmp3High, mmp3HighCens, RED),
    km(5, bmp1Low, '#000'), km(5, bmp1High, RED),
    cens(5, bmp1Low, bmp1LowCens, '#000'), cens(5, bmp1High, bmp1HighCens, RED)
  ],
  graphic: graphics
});
</script></body></html>
